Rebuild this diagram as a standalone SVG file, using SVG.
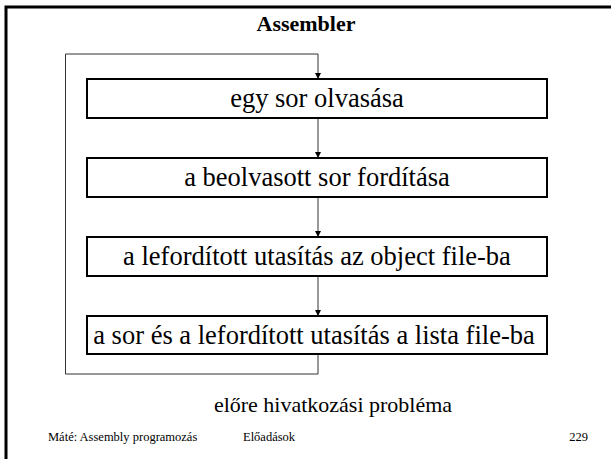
<svg xmlns="http://www.w3.org/2000/svg" width="611" height="459" viewBox="0 0 611 459">
<defs>
<style>
text{font-family:"Liberation Serif","Times New Roman",Times,serif;fill:#000}
.box{fill:#fff;stroke:#000;stroke-width:2}
.ln{fill:none;stroke:#333;stroke-width:1}
.bt{font-size:26.5px;text-anchor:middle}
.ft{font-size:12.5px}
</style>
<marker id="ah" markerWidth="6" markerHeight="6" refX="5" refY="3" orient="auto" markerUnits="userSpaceOnUse">
<path d="M0,0 L6,3 L0,6 z" fill="#000"/>
</marker>
</defs>
<rect width="611" height="459" fill="#fff"/>
<path d="M6,459 V7 H611" fill="none" stroke="#000" stroke-width="3"/>
<text x="306" y="31" font-size="22" font-weight="bold" text-anchor="middle">Assembler</text>
<g id="connectors">
<path class="ln" d="M318,354 V374 H65.5 V54 H318 V78" marker-end="url(#ah)"/>
<path class="ln" d="M318,118 V157" marker-end="url(#ah)"/>
<path class="ln" d="M318,197 V236" marker-end="url(#ah)"/>
<path class="ln" d="M318,276 V315" marker-end="url(#ah)"/>
</g>
<g id="n1"><rect class="box" x="87" y="79" width="460" height="39"/><text class="bt" x="317" y="107">egy sor olvasása</text></g>
<g id="n2"><rect class="box" x="87" y="158" width="460" height="39"/><text class="bt" x="317" y="186">a beolvasott sor fordítása</text></g>
<g id="n3"><rect class="box" x="87" y="237" width="460" height="39"/><text class="bt" x="317" y="265">a lefordított utasítás az object file-ba</text></g>
<g id="n4"><rect class="box" x="87" y="316" width="460" height="38"/><text class="bt" x="314" y="344">a sor és a lefordított utasítás a lista file-ba</text></g>
<text x="333" y="412" font-size="22" text-anchor="middle">előre hivatkozási probléma</text>
<text class="ft" x="48" y="441">Máté: Assembly programozás</text>
<text class="ft" x="243" y="441">Előadások</text>
<text class="ft" x="588" y="441" text-anchor="end">229</text>
</svg>
